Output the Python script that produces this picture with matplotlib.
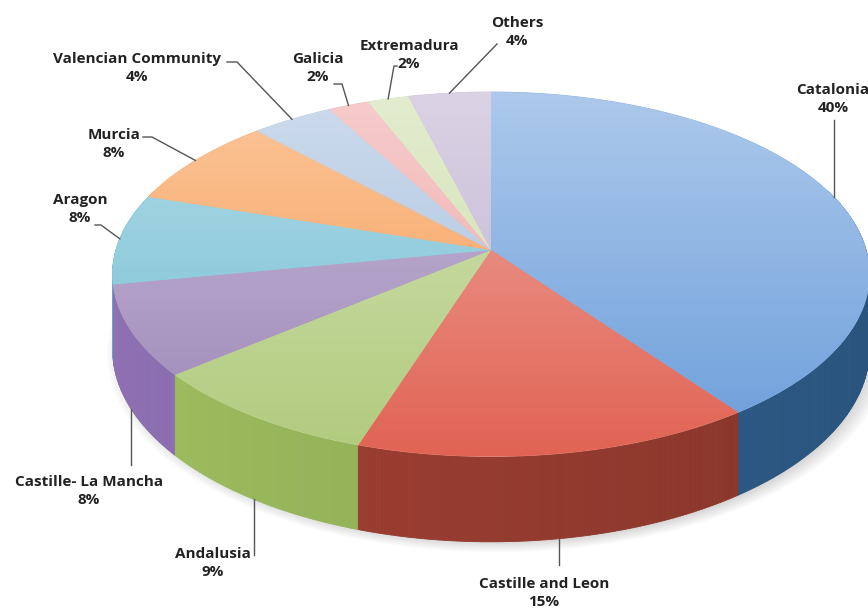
import numpy as np
import matplotlib.pyplot as plt
from matplotlib.patches import Polygon
from matplotlib.colors import to_rgb

# share of projects by region (%)
regions = ['Catalonia', 'Castille and Leon', 'Andalusia', 'Castille- La Mancha',
           'Aragon', 'Murcia', 'Valencian Community', 'Galicia', 'Extremadura', 'Others']
shares = [40, 15, 9, 8, 8, 8, 4, 2, 2, 4]
top_colors = ['#8db4e3', '#e8877b', '#c3d79b', '#b3a2c8', '#93cddd', '#f9b075',
              '#b9cde5', '#f2b9b8', '#d8e5bd', '#ccc1da']
side_colors = ['#2f5f8e', '#983c30', '#93b158', '#8468a6', '#4bacc6', '#e46c0a',
               '#95b3d7', '#d99694', '#c3d69b', '#b2a1c7']

# label text centres; leader start point and a short horizontal run
label_pos = [(833, 99), (544, 593), (213, 563), (89, 491), (80, 209),
             (114, 144), (137, 68), (318, 68), (409, 55), (517, 32)]
leader_start = [(None, 120), (None, 565), (None, 555), (None, 465), (95, 225),
                (143, 137), (227, 62), (334, 84), (397, 66), (497, 44)]
leader_run = [0, 0, 0, 0, 6, 9, 10, 8, -3, 0]

# simple perspective view of the disc
cx, cy, A, B, p, D0 = 491, 250, 375, 179, 0.133, 74


def proj(theta, down=False):
    t = np.radians(theta)
    X, Y = np.cos(t), np.sin(t)
    w = 1 + p * Y
    x = cx + A * X / w
    y = cy - B * Y / w
    if down:
        y = y + D0 / w
    return x, y


def shade(c, f):
    return np.clip(np.array(to_rgb(c)) * f, 0, 1)


def tint(c, k):
    # k > 0 moves toward white, k < 0 pushes away from white (richer colour)
    c = np.array(to_rgb(c))
    return np.clip(c + (1 - c) * k, 0, 1)


fig = plt.figure(figsize=(8.68, 6.14), dpi=100)
ax = fig.add_axes([0, 0, 1, 1])
ax.set_xlim(0, 868)
ax.set_ylim(614, 0)
ax.axis('off')

# soft shadow under the pie
ring = np.linspace(0, 360, 361)
base = np.array([proj(t, True) for t in ring])
ctr = base.mean(axis=0)
for i in range(8):
    s = 1.03 - 0.008 * i
    pts = (base - ctr) * s + ctr + np.array([6, 4])
    ax.add_patch(Polygon(pts, closed=True, facecolor='black', edgecolor='none',
                         alpha=0.025, zorder=0))

cum = np.cumsum([0] + shares)
angles = [(90 - cum[i] * 3.6, 90 - cum[i + 1] * 3.6) for i in range(len(shares))]

# outer side walls, painted back to front
quads = []
for (t1, t2), col in zip(angles, side_colors):
    lo, hi = max(t2, -200), min(t1, 20)
    if hi <= lo:
        continue
    ts = np.linspace(hi, lo, max(int((hi - lo) * 2), 2))
    for s, e in zip(ts[:-1], ts[1:]):
        m = np.radians((s + e) / 2)
        f = 0.98 - 0.1 * np.cos(m)
        x1, y1 = proj(s)
        x2, y2 = proj(e)
        x3, y3 = proj(e, True)
        x4, y4 = proj(s, True)
        c = tuple(shade(col, f))
        quads.append((np.sin(m), [(x1, y1), (x2, y2), (x3, y3), (x4, y4)], c))
for _, q, c in sorted(quads, key=lambda k: -k[0]):
    ax.add_patch(Polygon(q, closed=True, facecolor=c, edgecolor=c, lw=0.6, zorder=2))

# top faces, each with its own light-to-rich vertical gradient
rim = np.array([proj(t) for t in ring])
y_top, y_bot = rim[:, 1].min(), rim[:, 1].max()
v = np.linspace(0, 1, 256)[:, None]
for (t1, t2), col in zip(angles, top_colors):
    ts = np.linspace(t1, t2, max(int(abs(t1 - t2) * 2), 3))
    pts = np.array([(cx, cy)] + [proj(t) for t in ts])
    face = Polygon(pts, closed=True, facecolor=col, edgecolor=col, lw=0.6, zorder=3)
    ax.add_patch(face)
    grad = tint(col, 0.28) * (1 - v) + tint(col, -0.3) * v
    img = ax.imshow(grad[:, None, :], extent=(pts[:, 0].min() - 2, pts[:, 0].max() + 2,
                                              y_bot, y_top),
                    aspect='auto', origin='upper', zorder=4, interpolation='bilinear')
    img.set_clip_path(face)
ax.set_xlim(0, 868)
ax.set_ylim(614, 0)

# labels with leader lines
for name, pct, (t1, t2), (lx, ly), (sx, sy), run in zip(
        regions, shares, angles, label_pos, leader_start, leader_run):
    mid = (t1 + t2) / 2
    front = np.sin(np.radians(mid)) < -0.3
    ex, ey = proj(mid, front)
    if sx is None:
        xs, ys = [ex, ex], [sy, ey]
    else:
        xs, ys = [sx, sx + run, ex], [sy, sy, ey]
    ax.plot(xs, ys, color='#555555', lw=1.0, zorder=5)
    ax.text(lx, ly, f'{name}\n{pct}%', ha='center', va='center', fontsize=11,
            fontweight='bold', family='Open Sans', color='#222222',
            linespacing=1.3, zorder=6)

fig.savefig('out.png', dpi=100)
